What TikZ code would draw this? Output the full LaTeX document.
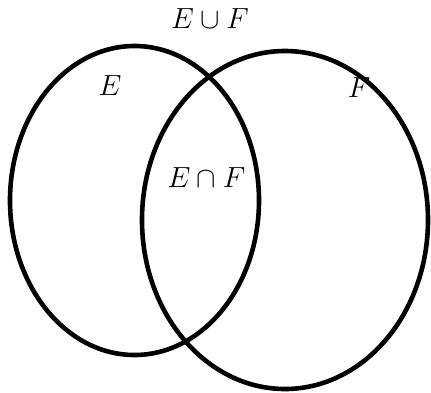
\documentclass[tikz,border=0pt]{standalone}
\usepackage{graphicx}
\begin{document}
\begin{tikzpicture}[x=1pt,y=-1pt,
  setline/.style={line width=4.6pt},
  lbl/.style={inner sep=0pt}]
\newcommand{\biglbl}[1]{\scalebox{1.17}{\Huge$#1$}}
\useasboundingbox (0,0) rectangle (431,392);
\draw[setline] (134.5,200.5) ellipse [x radius=124.5, y radius=154.5];
\draw[setline] (285,220) ellipse [x radius=143, y radius=169];
\node[lbl] (u) at (210,18.5) {\biglbl{E\cup F}};
\node[lbl] (e) at (110,86) {\biglbl{E}};
\node[lbl] (f) at (359,88) {\biglbl{F}};
\node[lbl] (i) at (206.5,177.5) {\biglbl{E\cap F}};
\end{tikzpicture}
\end{document}
